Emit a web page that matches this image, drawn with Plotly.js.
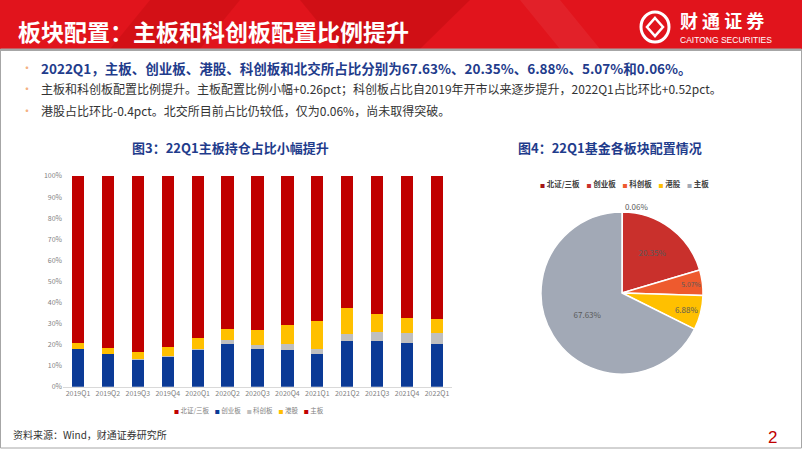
<!DOCTYPE html>
<html>
<head>
<meta charset="utf-8">
<script src="https://cdn.plot.ly/plotly-3.0.1.min.js"></script>
<style>
html,body{margin:0;padding:0;background:#fff;}
#chart{width:802px;height:451px;}
</style>
</head>
<body>
<div id="chart"></div>
<script>
// ---- data ----
const quarters = ['2019Q1','2019Q2','2019Q3','2019Q4','2020Q1','2020Q2','2020Q3','2020Q4','2021Q1','2021Q2','2021Q3','2021Q4','2022Q1'];
const bjShare   = [0,0,0,0,0,0,0,0,0,0,0,0,0.06];
const cybShare  = [17.7,15.4,12.9,14.2,17.3,20.5,17.7,17.6,15.7,21.5,21.7,20.8,20.35];
const kcbShare  = [0,0,0.3,0.6,0.8,1.6,2.1,2.6,2.2,3.5,4.1,4.55,5.07];
const hkShare   = [3.2,3.1,3.1,3.9,5.0,5.2,7.3,9.1,13.3,12.5,8.7,7.28,6.88];
const mainShare = [79.1,81.5,83.7,81.3,76.9,72.7,72.9,70.7,68.8,62.5,65.5,67.37,67.63];
const seriesNames = ['北证/三板','创业板','科创板','港股','主板'];
const yTickVals = [0,10,20,30,40,50,60,70,80,90,100];
const yTickText = ['0%','10%','20%','30%','40%','50%','60%','70%','80%','90%','100%'];

const pieLabels = ['北证/三板','创业板','科创板','港股','主板'];
const pieValues = [0.06,20.35,5.07,6.88,67.63];

// ---- helpers (pixel -> paper) ----
const W = 802, H = 451;
const px = x => x / W;
const py = y => 1 - y / H;
const F = '"Noto Sans CJK SC", "Noto Sans", sans-serif';

const barColors = ['#C00000','#0B3A96','#BFBFBF','#FFC000','#C00000'];
const pieColors = ['#A31515','#C9302C','#EE5A2E','#FFC000','#A2A9B6'];

const barSeries = [bjShare, cybShare, kcbShare, hkShare, mainShare];
const traces = barSeries.map((vals, i) => ({
  type: 'bar',
  x: quarters,
  y: vals,
  name: seriesNames[i],
  marker: {color: barColors[i]},
  xaxis: 'x', yaxis: 'y',
  showlegend: false,
  hoverinfo: 'x+y+name'
}));

traces.push({
  type: 'pie',
  labels: pieLabels,
  values: pieValues,
  sort: false,
  direction: 'clockwise',
  rotation: 0,
  marker: {colors: pieColors, line: {color: '#FFFFFF', width: 1.5}},
  texttemplate: '%{value:.2f}%',
  textposition: ['outside','inside','inside','inside','inside'],
  insidetextorientation: 'horizontal',
  textfont: {size: 8, color: '#595959', family: F},
  outsidetextfont: {size: 8, color: '#595959', family: F},
  domain: {x: [px(541), px(703)], y: [py(374), py(212)]},
  showlegend: false
});

const shapes = [
  // header banner
  {type:'rect', xref:'paper', yref:'paper', x0:0, x1:1, y0:py(49), y1:1, fillcolor:'#E1141C', line:{width:0}, layer:'below'},
  {type:'path', xref:'paper', yref:'paper', path:`M ${px(150)} ${py(0)} L ${px(240)} ${py(0)} L ${px(200)} ${py(49)} L ${px(110)} ${py(49)} Z`, fillcolor:'rgba(150,0,0,0.18)', line:{width:0}, layer:'below'},
  {type:'path', xref:'paper', yref:'paper', path:`M ${px(300)} ${py(0)} L ${px(470)} ${py(0)} L ${px(420)} ${py(49)} L ${px(340)} ${py(49)} Z`, fillcolor:'rgba(150,0,0,0.22)', line:{width:0}, layer:'below'},
  {type:'path', xref:'paper', yref:'paper', path:`M ${px(520)} ${py(0)} L ${px(560)} ${py(0)} L ${px(600)} ${py(49)} L ${px(560)} ${py(49)} Z`, fillcolor:'rgba(255,255,255,0.06)', line:{width:0}, layer:'below'},
  {type:'rect', xref:'paper', yref:'paper', x0:0, x1:1, y0:py(51), y1:py(49), fillcolor:'#A6A6A6', line:{width:0}},
  // slide border
  {type:'rect', xref:'paper', yref:'paper', x0:px(0.5), x1:px(801.5), y0:py(448), y1:py(49), fillcolor:'rgba(0,0,0,0)', line:{color:'#A6A6A6', width:1}},
  // logo emblem
  {type:'circle', xref:'paper', yref:'paper', x0:px(641), x1:px(669), y0:py(42), y1:py(12), fillcolor:'rgba(0,0,0,0)', line:{color:'#FFFFFF', width:3}},
  {type:'path', xref:'paper', yref:'paper', path:`M ${px(655)} ${py(18)} L ${px(663)} ${py(27)} L ${px(655)} ${py(36)} L ${px(647)} ${py(27)} Z`, fillcolor:'rgba(0,0,0,0)', line:{color:'#FFFFFF', width:2.5}}
];

const ann = [];
ann.push({text:'板块配置：主板和科创板配置比例提升', x:px(16), y:py(31), xref:'paper', yref:'paper', xanchor:'left', yanchor:'middle', showarrow:false, font:{family:F, size:23, color:'#FFFFFF', weight:'bold'}});
ann.push({text:'财 通 证 券', x:px(678), y:py(20), xref:'paper', yref:'paper', xanchor:'left', yanchor:'middle', showarrow:false, font:{family:F, size:18, color:'#FFFFFF', weight:'bold'}});
ann.push({text:'CAITONG SECURITIES', x:px(678), y:py(40), xref:'paper', yref:'paper', xanchor:'left', yanchor:'middle', showarrow:false, font:{family:'"Liberation Sans", Arial, sans-serif', size:8.5, color:'#FFFFFF'}});

const bullets = [
  {t:'2022Q1，主板、创业板、港股、科创板和北交所占比分别为67.63%、20.35%、6.88%、5.07%和0.06%。', y:68, size:13.5, color:'#1F3C8C', bold:true},
  {t:'主板和科创板配置比例提升。主板配置比例小幅+0.26pct；科创板占比自2019年开市以来逐步提升，2022Q1占比环比+0.52pct。', y:89, size:12, color:'#333333', bold:false},
  {t:'港股占比环比-0.4pct。北交所目前占比仍较低，仅为0.06%，尚未取得突破。', y:110, size:12, color:'#333333', bold:false}
];
bullets.forEach(b => {
  ann.push({text:'•', x:px(27), y:py(b.y), xref:'paper', yref:'paper', xanchor:'center', yanchor:'middle', showarrow:false, font:{family:F, size:12, color:'#F4B183'}});
  ann.push({text:b.t, x:px(39), y:py(b.y), xref:'paper', yref:'paper', xanchor:'left', yanchor:'middle', showarrow:false, font:{family:F, size:b.size, color:b.color, weight:b.bold?'bold':'normal'}});
});

ann.push({text:'图3：22Q1主板持仓占比小幅提升', x:px(230), y:py(147), xref:'paper', yref:'paper', xanchor:'center', yanchor:'middle', showarrow:false, font:{family:F, size:13, color:'#1F3C8C', weight:'bold'}});
ann.push({text:'图4：22Q1基金各板块配置情况', x:px(610), y:py(147), xref:'paper', yref:'paper', xanchor:'center', yanchor:'middle', showarrow:false, font:{family:F, size:13, color:'#1F3C8C', weight:'bold'}});
ann.push({text:'资料来源：Wind，财通证券研究所', x:px(11), y:py(434), xref:'paper', yref:'paper', xanchor:'left', yanchor:'middle', showarrow:false, font:{family:F, size:10, color:'#333333'}});
ann.push({text:'2', x:px(772), y:py(437), xref:'paper', yref:'paper', xanchor:'center', yanchor:'middle', showarrow:false, font:{family:'"Liberation Sans", sans-serif', size:17, color:'#C00000'}});

// compact legends built from the series names and colours
const barLegend = seriesNames.map((n, i) => `<span style="color:${barColors[i]};font-size:5px">■</span>&nbsp;${n}`).join('&nbsp;&nbsp;&nbsp;&nbsp;');
ann.push({text: barLegend, x:px(249), y:py(410), xref:'paper', yref:'paper', xanchor:'center', yanchor:'middle', showarrow:false, font:{family:F, size:6.5, color:'#7F7F7F'}});
const pieLegend = pieLabels.map((n, i) => `<span style="color:${pieColors[i]};font-size:5px">■</span>&nbsp;${n}`).join('&nbsp;&nbsp;&nbsp;&nbsp;');
ann.push({text: pieLegend, x:px(624), y:py(183), xref:'paper', yref:'paper', xanchor:'center', yanchor:'middle', showarrow:false, font:{family:F, size:7.5, color:'#404040', weight:'bold'}});

const layout = {
  width: W, height: H,
  margin: {l:0, r:0, t:0, b:0},
  paper_bgcolor: '#FFFFFF',
  plot_bgcolor: 'rgba(0,0,0,0)',
  barmode: 'stack',
  bargap: 0.59,
  font: {family: F},
  xaxis: {
    domain: [px(63), px(452)],
    type: 'category',
    showgrid: false, zeroline: false,
    showline: true, linecolor: '#D9D9D9', linewidth: 1,
    ticks: '',
    tickfont: {size: 7, color: '#7F7F7F', family: F},
    fixedrange: true
  },
  yaxis: {
    domain: [py(386.7), py(176)],
    range: [0, 100],
    tickvals: yTickVals, ticktext: yTickText,
    showgrid: false, zeroline: false, showline: false,
    ticks: '',
    tickfont: {size: 7, color: '#7F7F7F', family: F},
    fixedrange: true
  },
  shapes: shapes,
  annotations: ann,
  showlegend: false
};

Plotly.newPlot('chart', traces, layout, {displayModeBar: false, staticPlot: true});
</script>
</body>
</html>
